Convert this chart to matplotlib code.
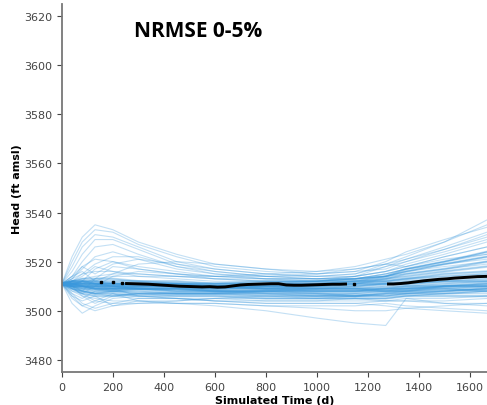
import numpy as np
from matplotlib import pyplot as plt

# control times (days) for the simulated head curves
times = [0, 40, 80, 130, 200, 300, 450, 600, 800, 1000, 1150, 1270, 1350, 1500, 1667]

# simulated heads (ft amsl), one list per realisation
sims = [
    # upper hump
    [3511, 3522, 3530, 3535, 3533, 3528, 3523, 3519, 3517, 3516, 3517, 3519, 3522, 3528, 3535],
    [3511, 3520, 3528, 3533, 3532, 3527, 3522, 3518, 3516, 3515, 3516, 3517, 3520, 3525, 3530],
    [3511, 3518, 3526, 3531, 3530, 3526, 3520, 3517, 3515, 3514, 3515, 3518, 3521, 3526, 3532],
    [3511, 3516, 3523, 3529, 3529, 3525, 3519, 3516, 3514, 3514, 3514, 3516, 3519, 3523, 3528],
    [3511, 3514, 3520, 3526, 3527, 3523, 3518, 3515, 3514, 3513, 3514, 3516, 3518, 3522, 3526],
    [3511, 3513, 3517, 3522, 3524, 3521, 3517, 3515, 3513, 3513, 3513, 3515, 3517, 3520, 3524],
    [3511, 3512, 3515, 3519, 3522, 3522, 3518, 3516, 3514, 3513, 3513, 3514, 3516, 3519, 3522],
    [3511, 3513, 3518, 3515, 3519, 3521, 3519, 3517, 3515, 3514, 3515, 3519, 3518, 3521, 3523],
    [3511, 3510, 3512, 3517, 3520, 3518, 3516, 3514, 3513, 3512, 3513, 3515, 3517, 3519, 3521],
    [3511, 3510, 3508, 3513, 3518, 3517, 3515, 3513, 3512, 3512, 3513, 3514, 3516, 3518, 3520],
    [3511, 3514, 3516, 3512, 3515, 3519, 3520, 3519, 3517, 3515, 3516, 3520, 3524, 3529, 3534],
    [3511, 3512, 3514, 3518, 3516, 3514, 3514, 3514, 3515, 3516, 3518, 3521, 3523, 3528, 3537],
    [3511, 3508, 3507, 3510, 3514, 3516, 3515, 3514, 3514, 3515, 3517, 3519, 3521, 3525, 3531],
    # middle
    [3511, 3513, 3515, 3516, 3516, 3515, 3514, 3513, 3513, 3513, 3514, 3516, 3518, 3522, 3526],
    [3511, 3512, 3513, 3514, 3515, 3515, 3514, 3513, 3512, 3512, 3513, 3515, 3517, 3520, 3523],
    [3511, 3514, 3518, 3521, 3520, 3517, 3515, 3514, 3513, 3513, 3513, 3514, 3515, 3517, 3519],
    [3511, 3510, 3511, 3513, 3514, 3514, 3513, 3512, 3512, 3512, 3514, 3518, 3520, 3524, 3529],
    # core band
    [3511, 3511, 3511, 3511, 3511, 3511, 3511, 3510, 3510, 3510, 3511, 3511, 3512, 3513, 3514],
    [3511, 3511, 3510, 3510, 3510, 3510, 3510, 3509, 3509, 3509, 3509, 3510, 3510, 3511, 3512],
    [3511, 3510, 3510, 3509, 3509, 3509, 3508, 3508, 3508, 3507, 3507, 3508, 3508, 3509, 3510],
    [3511, 3512, 3512, 3512, 3512, 3512, 3512, 3511, 3511, 3511, 3512, 3513, 3514, 3516, 3518],
    [3511, 3510, 3509, 3508, 3508, 3508, 3507, 3507, 3506, 3506, 3506, 3507, 3507, 3507, 3508],
    [3511, 3511, 3511, 3510, 3510, 3509, 3509, 3509, 3510, 3510, 3511, 3512, 3513, 3515, 3516],
    [3511, 3512, 3511, 3511, 3511, 3510, 3510, 3510, 3509, 3509, 3510, 3511, 3511, 3512, 3513],
    [3511, 3510, 3510, 3510, 3509, 3509, 3509, 3508, 3508, 3508, 3508, 3509, 3509, 3510, 3511],
    [3511, 3511, 3512, 3512, 3511, 3511, 3511, 3511, 3511, 3512, 3513, 3514, 3516, 3519, 3522],
    [3511, 3509, 3508, 3507, 3507, 3506, 3506, 3506, 3505, 3505, 3505, 3505, 3506, 3506, 3506],
    [3511, 3511, 3510, 3510, 3510, 3511, 3511, 3511, 3512, 3512, 3512, 3512, 3513, 3514, 3515],
    [3511, 3510, 3509, 3509, 3509, 3509, 3509, 3509, 3509, 3510, 3510, 3511, 3511, 3512, 3512],
    [3511, 3512, 3513, 3513, 3513, 3512, 3511, 3510, 3510, 3509, 3509, 3508, 3508, 3508, 3509],
    [3511, 3510, 3508, 3507, 3508, 3509, 3509, 3508, 3507, 3507, 3506, 3506, 3507, 3508, 3509],
    [3511, 3511, 3511, 3511, 3510, 3510, 3510, 3510, 3510, 3511, 3511, 3513, 3515, 3517, 3520],
    [3511, 3509, 3507, 3506, 3506, 3507, 3507, 3507, 3507, 3506, 3506, 3507, 3508, 3510, 3511],
    [3511, 3511, 3512, 3511, 3510, 3509, 3508, 3508, 3508, 3509, 3509, 3509, 3510, 3510, 3510],
    [3511, 3512, 3512, 3511, 3511, 3511, 3510, 3510, 3511, 3511, 3512, 3514, 3517, 3520, 3524],
    [3511, 3510, 3510, 3509, 3508, 3507, 3507, 3507, 3508, 3508, 3508, 3509, 3509, 3510, 3510],
    [3511, 3511, 3510, 3509, 3509, 3510, 3510, 3510, 3509, 3508, 3508, 3508, 3509, 3509, 3508],
    # lower
    [3511, 3503, 3499, 3502, 3505, 3506, 3505, 3504, 3503, 3503, 3503, 3504, 3504, 3504, 3505],
    [3511, 3505, 3502, 3504, 3507, 3504, 3503, 3502, 3500, 3497, 3495, 3494, 3505, 3503, 3502],
    [3511, 3507, 3503, 3501, 3503, 3505, 3505, 3504, 3504, 3504, 3505, 3505, 3506, 3507, 3508],
    [3511, 3506, 3504, 3506, 3502, 3503, 3503, 3503, 3502, 3502, 3502, 3503, 3502, 3501, 3500],
    [3511, 3508, 3506, 3505, 3504, 3504, 3504, 3505, 3505, 3505, 3506, 3506, 3506, 3507, 3507],
    [3511, 3507, 3505, 3508, 3509, 3506, 3505, 3504, 3503, 3503, 3503, 3502, 3501, 3500, 3499],
    [3511, 3509, 3507, 3504, 3503, 3503, 3504, 3505, 3506, 3506, 3507, 3506, 3507, 3508, 3509],
    [3511, 3506, 3502, 3500, 3502, 3504, 3503, 3503, 3502, 3501, 3500, 3500, 3501, 3502, 3503],
    [3511, 3509, 3508, 3507, 3506, 3505, 3505, 3505, 3504, 3504, 3504, 3504, 3505, 3505, 3506],
    [3511, 3510, 3506, 3503, 3506, 3507, 3506, 3506, 3506, 3505, 3505, 3504, 3504, 3503, 3503],
]

# observed heads
obs1_t = [248, 280, 310, 340, 370, 400, 430, 460, 490, 520, 550, 580, 610, 640, 670,
          700, 730, 760, 790, 820, 850, 880, 910, 940, 970, 1000, 1030, 1060, 1090, 1118]
obs1_h = [3511.1, 3511.0, 3510.9, 3510.8, 3510.6, 3510.4, 3510.2, 3510.0, 3509.9, 3509.8,
          3509.7, 3509.8, 3509.6, 3509.7, 3510.1, 3510.5, 3510.7, 3510.8, 3510.9, 3511.0,
          3511.0, 3510.5, 3510.4, 3510.4, 3510.5, 3510.6, 3510.7, 3510.8, 3510.8, 3510.9]
obs2_t = [1275, 1300, 1330, 1360, 1390, 1420, 1450, 1480, 1510, 1540, 1570, 1600, 1630, 1667]
obs2_h = [3510.9, 3510.9, 3511.1, 3511.4, 3511.8, 3512.2, 3512.5, 3512.8, 3513.0, 3513.3,
          3513.5, 3513.7, 3513.9, 3514.0]
iso_t = [153, 199, 235, 1145]
iso_h = [3511.8, 3511.6, 3511.4, 3510.7]

fig = plt.figure(figsize=(4.87, 4.06), dpi=100)
ax = fig.add_axes([0.127, 0.081, 0.873, 0.907])

blue = '#3a98dc'
for s in sims:
    ax.plot(times, s, color=blue, lw=0.8, alpha=0.3)
# dense core near starting head
for s in sims[17:37]:
    ax.plot(times, s, color=blue, lw=1.8, alpha=0.3)

ax.plot(obs1_t, obs1_h, color='black', lw=2.1, solid_capstyle='butt')
ax.plot(obs2_t, obs2_h, color='black', lw=2.1, solid_capstyle='butt')
ax.plot(iso_t, iso_h, 's', color='black', ms=1.8, lw=0)

ax.set_xlim(0, 1667)
ax.set_ylim(3475, 3625)
ax.set_xticks([0, 200, 400, 600, 800, 1000, 1200, 1400, 1600])
ax.set_yticks([3480, 3500, 3520, 3540, 3560, 3580, 3600, 3620])
ax.tick_params(axis='both', labelsize=8, colors='#444444', length=3.5)
for side in ['top', 'right']:
    ax.spines[side].set_visible(False)
for side in ['left', 'bottom']:
    ax.spines[side].set_color('#777777')
    ax.spines[side].set_linewidth(1.3)

ax.set_xlabel('Simulated Time (d)', fontsize=8, fontweight='bold', labelpad=2)
ax.set_ylabel('Head (ft amsl)', fontsize=8, fontweight='bold', labelpad=1)
ax.text(0.32, 0.928, 'NRMSE 0-5%', transform=ax.transAxes, fontsize=15,
        fontweight='bold', family='Open Sans', ha='center', va='center')

fig.savefig('out.png', dpi=100)
